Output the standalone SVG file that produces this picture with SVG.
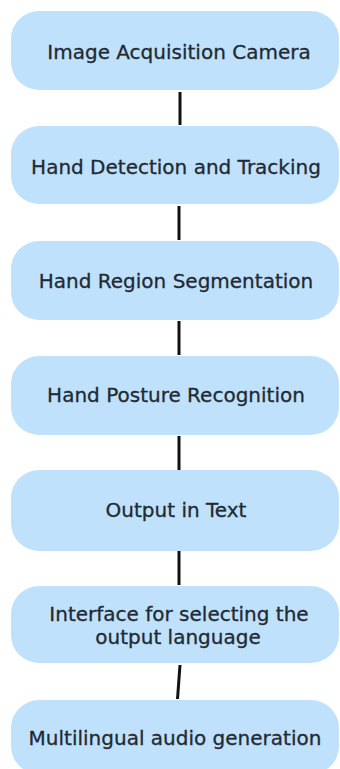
<svg xmlns="http://www.w3.org/2000/svg" width="340" height="769" viewBox="0 0 340 769">
  <style>
    .box { fill: #c0e1fb; }
    .label { font-family: "DejaVu Sans", "Liberation Sans", sans-serif; font-size: 20px; fill: #1f2a33; stroke: #1f2a33; stroke-width: 0.3; text-anchor: middle; dominant-baseline: central; }
    .link { stroke: #111111; stroke-width: 3; fill: none; stroke-linecap: butt; }
  </style>
  <rect width="340" height="769" fill="#ffffff"/>

  <g id="connectors">
    <line class="link" x1="180" y1="92" x2="180" y2="125"/>
    <line class="link" x1="179" y1="206" x2="179" y2="240"/>
    <line class="link" x1="179" y1="321" x2="179" y2="355"/>
    <line class="link" x1="179" y1="436" x2="179" y2="470"/>
    <line class="link" x1="179" y1="551" x2="179" y2="585"/>
    <line class="link" x1="180" y1="665" x2="177.5" y2="699"/>
  </g>

  <g id="node-acquisition">
    <rect class="box" x="11" y="11" width="328" height="79" rx="28"/>
    <text class="label" x="179" y="52">Image Acquisition Camera</text>
  </g>
  <g id="node-detection">
    <rect class="box" x="11" y="126" width="328" height="78" rx="28"/>
    <text class="label" x="176" y="167">Hand Detection and Tracking</text>
  </g>
  <g id="node-segmentation">
    <rect class="box" x="11" y="241" width="328" height="79" rx="28"/>
    <text class="label" x="176" y="281">Hand Region Segmentation</text>
  </g>
  <g id="node-recognition">
    <rect class="box" x="11" y="356" width="328" height="79" rx="28"/>
    <text class="label" x="176" y="395">Hand Posture Recognition</text>
  </g>
  <g id="node-text-output">
    <rect class="box" x="11" y="470" width="328" height="81" rx="28"/>
    <text class="label" x="176" y="510">Output in Text</text>
  </g>
  <g id="node-language">
    <rect class="box" x="11" y="586" width="328" height="77" rx="28"/>
    <text class="label" x="179" y="614">Interface for selecting the</text>
    <text class="label" x="178" y="637">output language</text>
  </g>
  <g id="node-audio">
    <rect class="box" x="11" y="700" width="328" height="74" rx="28"/>
    <text class="label" x="175" y="738">Multilingual audio generation</text>
  </g>
</svg>
